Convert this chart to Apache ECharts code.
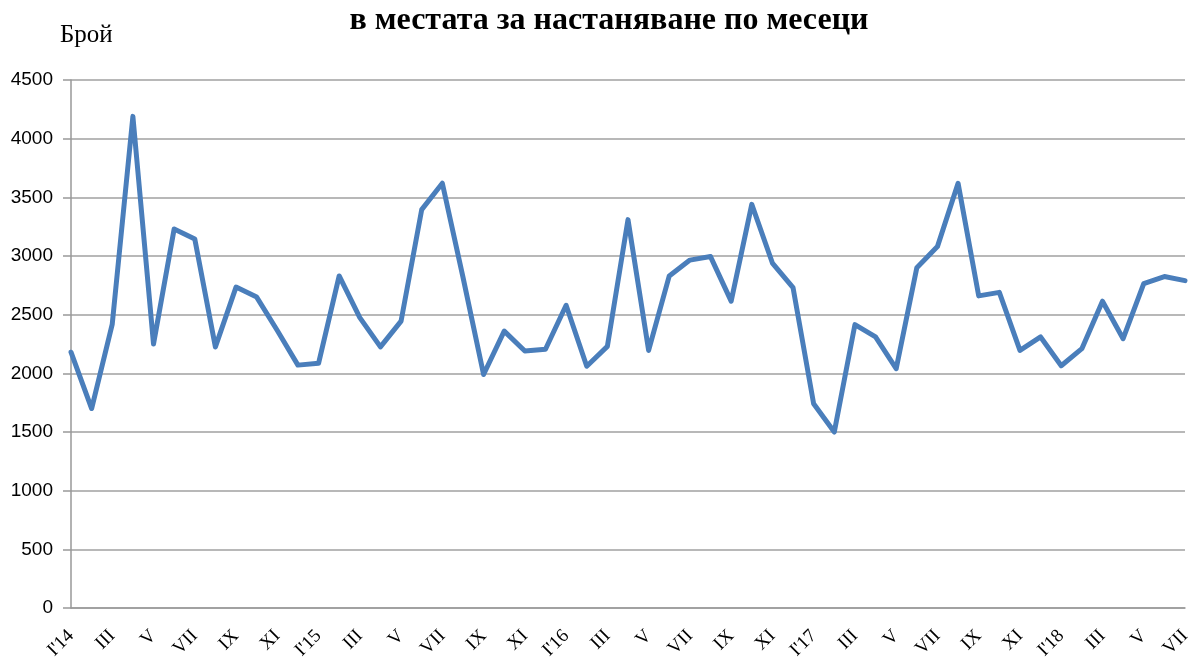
<!DOCTYPE html>
<html>
<head>
<meta charset="utf-8">
<script src="https://cdn.jsdelivr.net/npm/echarts@6/dist/echarts.min.js"></script>
<style>
    html, body { margin: 0; padding: 0; background: #fff; }
    #chart { width: 1195px; height: 657px; }
</style>
</head>
<body>
<div id="chart"></div>
<script>
// месеци I'14 .. VII'18
const months = [
    "I'14", 'II', 'III', 'IV', 'V', 'VI', 'VII', 'VIII', 'IX', 'X', 'XI', 'XII',
    "I'15", 'II', 'III', 'IV', 'V', 'VI', 'VII', 'VIII', 'IX', 'X', 'XI', 'XII',
    "I'16", 'II', 'III', 'IV', 'V', 'VI', 'VII', 'VIII', 'IX', 'X', 'XI', 'XII',
    "I'17", 'II', 'III', 'IV', 'V', 'VI', 'VII', 'VIII', 'IX', 'X', 'XI', 'XII',
    "I'18", 'II', 'III', 'IV', 'V', 'VI', 'VII'
];
const counts = [
    2180, 1700, 2420, 4190, 2250, 3230, 3145, 2225, 2735, 2650, 2365, 2070,
    2085, 2830, 2475, 2225, 2445, 3395, 3620, 2820, 1990, 2360, 2190, 2205,
    2580, 2060, 2230, 3310, 2195, 2830, 2965, 2995, 2615, 3440, 2940, 2730,
    1740, 1500, 2415, 2310, 2040, 2900, 3080, 3620, 2660, 2690, 2195, 2310,
    2065, 2210, 2615, 2295, 2765, 2825, 2790
];
const titleText = 'в местата за настаняване по месеци';
const unitText = 'Брой';

(function () {
    let myChart = echarts.init(document.getElementById('chart'));
    let option = {
        animation: false,
        title: [
            {
                text: titleText,
                left: 604,
                textAlign: 'center',
                top: 0,
                textStyle: {
                    fontFamily: 'Liberation Serif',
                    fontWeight: 'bold',
                    fontSize: 32,
                    color: '#000'
                }
            },
            {
                text: unitText,
                left: 55,
                top: 18,
                textStyle: {
                    fontFamily: 'Liberation Serif',
                    fontWeight: 'normal',
                    fontSize: 25,
                    color: '#000'
                }
            }
        ],
        grid: { left: 71, right: 10, top: 80, bottom: 49, outerBoundsMode: 'none' },
        xAxis: {
            type: 'category',
            data: months,
            boundaryGap: false,
            axisLine: { lineStyle: { color: '#999', width: 1.5 } },
            axisTick: { show: false },
            axisLabel: {
                interval: 1,
                rotate: 45,
                margin: 25,
                fontFamily: 'Liberation Serif',
                fontSize: 19,
                color: '#000'
            },
            splitLine: { show: false }
        },
        yAxis: {
            type: 'value',
            min: 0,
            max: 4500,
            interval: 500,
            axisLine: { show: true, lineStyle: { color: '#999', width: 1.5 } },
            axisTick: { show: true, length: 8, lineStyle: { color: '#999', width: 1.5 } },
            axisLabel: {
                margin: 18,
                fontFamily: 'Liberation Sans',
                fontSize: 19,
                color: '#000',
                formatter: function (v) { return String(v); }
            },
            splitLine: { lineStyle: { color: '#a0a0a0', width: 1.5 } }
        },
        series: [
            {
                type: 'line',
                data: counts,
                symbol: 'none',
                lineStyle: { color: '#4a7ebb', width: 5, join: 'round', cap: 'round' }
            }
        ]
    };
    myChart.setOption(option);
    window.addEventListener('resize', function () {
        myChart.resize();
    });
})();
</script>
</body>
</html>
